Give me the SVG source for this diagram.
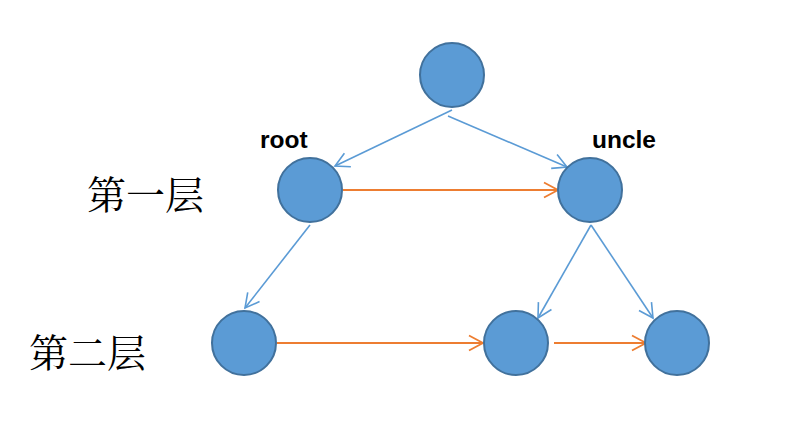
<svg xmlns="http://www.w3.org/2000/svg" width="790" height="434" viewBox="0 0 790 434">
<style>
.node{fill:#5b9bd5;stroke:#41719c;stroke-width:2}
.blue{stroke:#5b9bd5;stroke-width:1.6;fill:none}
.orange{stroke:#ed7d31;stroke-width:1.8;fill:none}
.lbl{font-family:"Liberation Sans",Arial,sans-serif;font-weight:bold;font-size:24.5px;fill:#000}
.cjk{font-family:"Noto Serif CJK SC","Noto Sans CJK SC",serif;font-size:39px;fill:#000}
</style>
<defs>
<marker id="ab" markerUnits="userSpaceOnUse" markerWidth="18" markerHeight="18" viewBox="0 0 18 18" refX="15" refY="9" orient="auto">
<path d="M1,1.5 L15,9 L1,16.5" fill="none" stroke="#5b9bd5" stroke-width="1.6"/>
</marker>
<marker id="ao" markerUnits="userSpaceOnUse" markerWidth="18" markerHeight="18" viewBox="0 0 18 18" refX="15" refY="9" orient="auto">
<path d="M1,1.5 L15,9 L1,16.5" fill="none" stroke="#ed7d31" stroke-width="1.8"/>
</marker>
</defs>
<rect width="790" height="434" fill="#fff"/>
<g id="connectors">
<line class="blue" x1="452" y1="110" x2="335" y2="166" marker-end="url(#ab)"/>
<line class="blue" x1="448" y1="116" x2="567" y2="167" marker-end="url(#ab)"/>
<line class="orange" x1="343" y1="190" x2="558" y2="190" marker-end="url(#ao)"/>
<line class="blue" x1="310" y1="225" x2="245" y2="308" marker-end="url(#ab)"/>
<line class="blue" x1="591" y1="225" x2="538" y2="318" marker-end="url(#ab)"/>
<line class="blue" x1="591" y1="225" x2="653" y2="318" marker-end="url(#ab)"/>
<line class="orange" x1="277" y1="343" x2="483" y2="343" marker-end="url(#ao)"/>
<line class="orange" x1="554" y1="343" x2="646" y2="343" marker-end="url(#ao)"/>
</g>
<g id="top"><circle class="node" cx="452" cy="75" r="32"/></g>
<g id="root"><circle class="node" cx="310" cy="190" r="32"/><text class="lbl" x="260" y="148">root</text></g>
<g id="uncle"><circle class="node" cx="590" cy="190" r="32"/><text class="lbl" x="592" y="148">uncle</text></g>
<g id="c1"><circle class="node" cx="244" cy="343" r="32"/></g>
<g id="c2"><circle class="node" cx="516" cy="343" r="32"/></g>
<g id="c3"><circle class="node" cx="677" cy="343" r="32"/></g>
<g id="layer1"><text class="cjk" x="87" y="209">第一层</text></g>
<g id="layer2"><text class="cjk" x="29" y="367">第二层</text></g>
</svg>
